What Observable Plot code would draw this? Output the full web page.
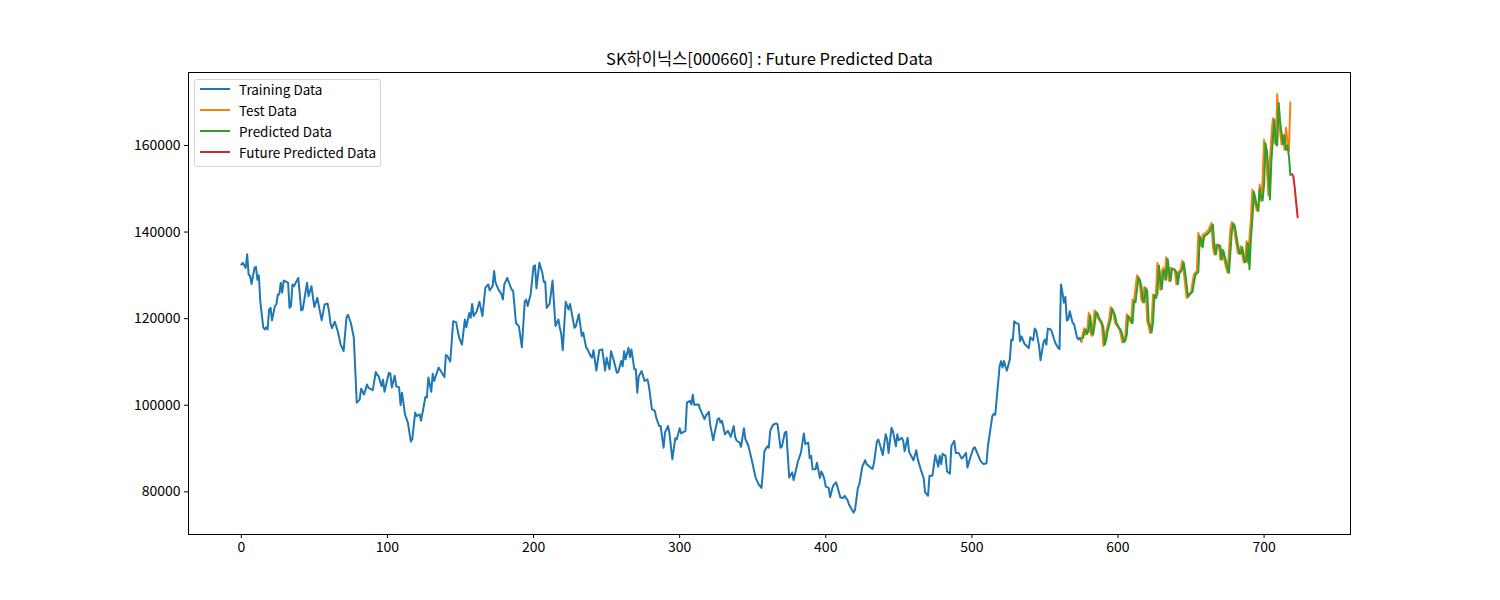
<!DOCTYPE html>
<html><head><meta charset="utf-8">
<script src="https://cdn.jsdelivr.net/npm/d3@7"></script>
<script src="https://cdn.jsdelivr.net/npm/@observablehq/plot@0.6"></script>
<style>
body{margin:0;background:#fff;font-family:"Noto Sans CJK KR","Noto Sans",sans-serif;}
#wrap{position:relative;width:1500px;height:600px;}
#legend{position:absolute;left:194px;top:79px;width:187px;height:88px;border:1px solid #d4d4d4;border-radius:3px;background:rgba(255,255,255,0.85);box-sizing:border-box;}
.row{position:absolute;left:0;height:20px;width:185px;}
.sw{position:absolute;left:5px;top:9px;width:30px;height:2px;}
.lb{position:absolute;left:44px;top:0;font-size:13.5px;line-height:20px;color:#000;white-space:nowrap;}
</style></head>
<body>
<div id="wrap"></div>
<script>
const seriesNames = ["Training Data","Test Data","Predicted Data","Future Predicted Data"];
const seriesColors = ["#1f77b4","#ff7f0e","#2ca02c","#d62728"];
const chartTitle = "SK하이닉스[000660] : Future Predicted Data";
const xTicks = [0,100,200,300,400,500,600,700];
const yTicks = [80000,100000,120000,140000,160000];

const trainingData = [
[0,132500],[1,132900],[3,131700],[4,134900],[5,130200],[6,129800],[7,128000],[9,131700],[10,132000],[11,129000],
[12,130000],[13,124000],[15,118000],[16,117500],[17,118000],[18,117500],[19,122100],[20,122500],[21,119600],[23,122900],
[24,123300],[25,125600],[26,125600],[27,128300],[28,126000],[29,128800],[32,128300],[33,122500],[34,122900],[35,127900],
[36,127500],[39,129400],[41,121900],[42,122100],[45,128300],[46,125200],[48,127500],[49,125000],[50,122700],[52,124800],
[55,119600],[57,123300],[59,123500],[60,121800],[61,119000],[62,117800],[64,119300],[66,117100],[68,114000],[70,112500],
[72,120300],[73,120900],[75,119000],[77,115600],[79,100600],[81,101300],[82,103800],[84,102500],[86,104800],[87,104000],
[90,103500],[92,107700],[93,107000],[94,106700],[96,104400],[97,105900],[98,103100],[101,107500],[102,107300],[103,104100],
[105,106800],[106,104400],[108,104100],[109,100000],[110,102900],[112,97900],[114,96000],[116,91600],[117,92200],[119,98300],
[120,97500],[122,97900],[123,96400],[126,101900],[127,101800],[128,106400],[130,103100],[131,107300],[132,105600],[135,108700],
[136,108200],[139,106500],[140,111600],[141,111400],[143,110100],[145,119400],[147,119200],[149,115700],[151,114000],[153,119800],
[154,118000],[156,121300],[157,120200],[158,123400],[159,120600],[161,121600],[163,123900],[165,120600],[167,127100],[169,127900],
[170,126500],[172,127500],[173,131000],[174,128300],[176,126700],[178,125700],[179,124400],[180,127900],[182,129400],[185,126700],
[186,126500],[188,119000],[190,118200],[192,113400],[194,124000],[195,124400],[196,122900],[198,125600],[200,132100],[201,132300],
[202,127000],[204,132900],[206,130600],[207,128500],[208,128500],[209,122500],[211,123400],[213,128800],[215,118300],[217,119800],
[218,117900],[219,116400],[220,112700],[222,123900],[224,122100],[225,123400],[228,117900],[229,118300],[231,121000],[233,116000],
[234,116800],[236,113300],[237,112900],[239,111400],[240,111000],[241,112700],[243,108000],[245,112700],[247,112900],[249,108000],
[250,111000],[252,108300],[253,112500],[255,110200],[257,107500],[258,107700],[260,110200],[261,109000],[262,112500],[263,110600],
[265,113300],[266,111100],[267,112900],[269,108300],[270,108300],[271,102900],[272,106700],[274,107900],[276,105600],[278,106000],
[279,104400],[281,99100],[283,98700],[284,97100],[286,95200],[287,95200],[289,90200],[290,93700],[292,95200],[293,93700],
[295,87500],[297,92400],[298,92100],[300,94700],[301,93500],[304,94100],[305,100600],[307,101000],[308,100200],[309,102400],
[310,100100],[313,100200],[314,99100],[317,96800],[318,97600],[320,98500],[321,95300],[323,91900],[324,93700],[326,96800],
[327,97000],[328,96000],[329,96400],[331,93300],[333,94100],[335,92700],[337,95200],[338,92700],[339,91800],[341,91400],
[342,90400],[344,94700],[345,92200],[347,90700],[349,87900],[352,83300],[354,81800],[356,80900],[357,84700],[358,89400],
[360,90500],[361,90200],[362,94100],[364,95500],[366,95800],[367,95600],[369,90200],[370,90500],[372,93700],[373,93900],
[375,83300],[377,84500],[378,82700],[381,87100],[383,89000],[385,93500],[386,91000],[388,91400],[389,87800],[390,88300],
[391,85200],[393,85200],[394,86700],[396,83200],[397,84700],[398,84000],[399,83000],[400,81200],[402,80900],[403,78800],
[405,81400],[407,82200],[408,81200],[410,78700],[412,78600],[413,79100],[415,78000],[416,77000],[419,75200],[420,75800],
[422,80900],[423,81800],[425,85800],[427,87300],[428,86400],[430,85800],[432,85300],[433,86700],[435,91600],[436,92100],
[437,91000],[439,88500],[441,93300],[442,92200],[443,89000],[445,94800],[446,94000],[448,90500],[449,93300],[450,91900],
[452,92500],[453,91800],[454,89400],[456,92500],[457,89300],[460,87300],[462,89600],[463,87500],[465,85200],[467,83200],
[468,79900],[470,79100],[471,83700],[473,83700],[475,88500],[477,85800],[478,88300],[479,86400],[480,88800],[482,88300],
[483,84700],[485,84200],[486,90600],[488,91800],[489,89000],[491,89000],[493,87700],[494,88000],[496,89000],[497,85600],
[499,88000],[501,90000],[502,90300],[504,88700],[506,87100],[508,86400],[510,86600],[511,90600],[512,92900],[514,97500],
[515,98000],[516,97800],[518,105200],[519,109000],[520,110200],[521,108700],[522,110200],[523,109000],[524,108000],[526,110600],
[527,115200],[528,115000],[529,119400],[530,119000],[532,118800],[533,114800],[534,115900],[536,114200],[538,113500],[539,113200],
[540,115700],[542,115000],[543,117700],[544,117300],[546,113700],[547,110400],[549,114500],[550,115200],[551,114000],[552,117700],
[554,117500],[555,116700],[557,114500],[559,113300],[560,113000],[561,127900],[562,126000],[563,123700],[564,125000],[565,119600],
[566,119800],[567,121700],[569,119000],[570,118700],[572,115600],[573,115200],[574,115600],[575,114700]
];

const testData = [
[575,114700],[576,116700],[577,117800],[578,116300],[579,117000],[580,121300],[581,117100],[582,116000],[583,118700],[584,121900],
[585,121500],[586,120200],[588,119300],[589,118300],[590,113700],[591,115000],[592,117100],[594,119800],[595,122700],[596,122000],
[597,121000],[598,119000],[600,118000],[601,117500],[602,116300],[603,114500],[604,114800],[605,116000],[606,121000],[607,120500],
[609,119000],[610,124400],[611,124000],[613,130000],[614,129500],[615,127900],[616,124400],[617,123700],[618,127300],[619,127000],
[620,119400],[621,118300],[622,116700],[623,119000],[624,125600],[625,125000],[626,125800],[627,132900],[628,129400],[629,126700],
[630,131000],[631,131700],[632,129000],[633,134200],[634,131400],[635,128700],[636,131700],[638,131500],[639,131000],[640,127900],
[641,130600],[643,131400],[644,133400],[645,131000],[646,127900],[647,124800],[648,125500],[650,126000],[651,128300],[652,130200],
[653,130600],[654,131000],[655,139800],[656,138700],[657,136700],[658,139300],[660,139800],[662,140500],[664,142100],[665,136500],
[666,134800],[667,137100],[669,137000],[670,133700],[671,136000],[673,133300],[674,131800],[675,130600],[677,140900],[678,142300],
[679,141800],[680,139400],[682,135200],[683,135000],[684,136700],[686,133000],[687,133500],[688,137900],[689,132800],[690,138700],
[691,143000],[692,149800],[693,148000],[694,146200],[695,145000],[696,144800],[697,150900],[698,147200],[699,152000],[700,161300],
[701,159000],[702,154000],[703,148500],[704,156500],[705,162000],[706,166300],[707,160900],[708,160200],[709,171800],[710,166000],
[711,163000],[712,160200],[713,162500],[714,159000],[715,164100],[716,161000],[717,158700],[718,170000]
];

const predictedData = [
[576,115500],[577,116800],[578,117500],[579,116500],[580,117500],[581,120800],[582,117000],[583,116300],[584,118500],[585,121500],
[586,121200],[587,120300],[589,119000],[590,118000],[591,114000],[592,115200],[593,117200],[595,119800],[596,122300],[597,121600],
[598,120700],[599,119000],[601,117800],[602,117300],[603,116200],[604,114600],[605,114900],[606,116200],[607,120600],[608,120200],
[610,119000],[611,124000],[612,123800],[614,129500],[615,129000],[616,127500],[617,124200],[618,123800],[619,127000],[620,126500],
[621,119200],[622,118300],[623,116800],[624,119200],[625,125400],[626,124800],[627,125800],[628,132300],[629,129000],[630,126800],
[631,130700],[632,131200],[633,129000],[634,133800],[635,131000],[636,128700],[637,131500],[639,131300],[640,130700],[641,128000],
[642,130400],[644,131300],[645,133000],[646,130700],[647,127800],[648,125000],[649,125600],[651,126200],[652,128300],[653,130000],
[654,130500],[655,130800],[656,139000],[657,138200],[658,136500],[659,139000],[661,139500],[663,140200],[665,141700],[666,136300],
[667,134800],[668,137000],[670,136800],[671,133600],[672,135800],[674,133200],[675,131700],[676,130600],[678,140500],[679,141900],
[680,141400],[681,139200],[683,135100],[684,135000],[685,136500],[687,133000],[688,133300],[689,137500],[690,131400],[691,138500],
[692,143000],[693,149300],[694,147800],[695,146000],[696,145000],[697,150000],[698,148000],[699,147300],[700,151000],[701,160500],
[702,158500],[703,154000],[704,147500],[705,156500],[706,161500],[707,166000],[708,160700],[709,160000],[710,169800],[711,165500],
[712,162800],[713,160300],[714,162300],[715,159000],[716,160000],[717,157500],[718,153200]
];

const futureData = [[719,153400],[720,152900],[721,150200],[722,146700],[723,143400]];

const allSeries = [trainingData, testData, predictedData, futureData];
const font = '"Noto Sans CJK KR","Noto Sans",sans-serif';

const marks = allSeries.map((s, i) =>
  Plot.line(s, {x: d => d[0], y: d => d[1], stroke: seriesColors[i], strokeWidth: 2})
);

const chart = Plot.plot({
  width: 1500, height: 600,
  marginLeft: 188, marginRight: 150, marginTop: 72, marginBottom: 66,
  style: {fontFamily: font, fontSize: "14px", color: "#000", background: "#fff", overflow: "visible"},
  x: {domain: [-36.15, 759.15], ticks: xTicks},
  y: {domain: [70150, 176850], ticks: yTicks},
  marks: [
    Plot.axisX(xTicks, {tickSize: 4, tickPadding: 4, tickFormat: d => String(d), fontSize: 14, label: null, stroke: "#000"}),
    Plot.axisY(yTicks, {tickSize: 4, tickPadding: 4, tickFormat: d => String(d), fontSize: 14, label: null, stroke: "#000"}),
    ...marks,
    Plot.frame({stroke: "#000", strokeWidth: 1}),
    Plot.text([chartTitle], {text: d => d, frameAnchor: "top", dy: -8, fontSize: 16.5, fill: "#000", lineAnchor: "bottom"})
  ]
});

const wrap = document.getElementById("wrap");
wrap.appendChild(chart);

const legend = document.createElement("div");
legend.id = "legend";
seriesNames.forEach((name, i) => {
  const row = document.createElement("div");
  row.className = "row";
  row.style.top = (-1 + i * 21) + "px";
  const sw = document.createElement("div");
  sw.className = "sw";
  sw.style.background = seriesColors[i];
  const lb = document.createElement("div");
  lb.className = "lb";
  lb.textContent = name;
  row.appendChild(sw); row.appendChild(lb);
  legend.appendChild(row);
});
wrap.appendChild(legend);
</script>
</body></html>
